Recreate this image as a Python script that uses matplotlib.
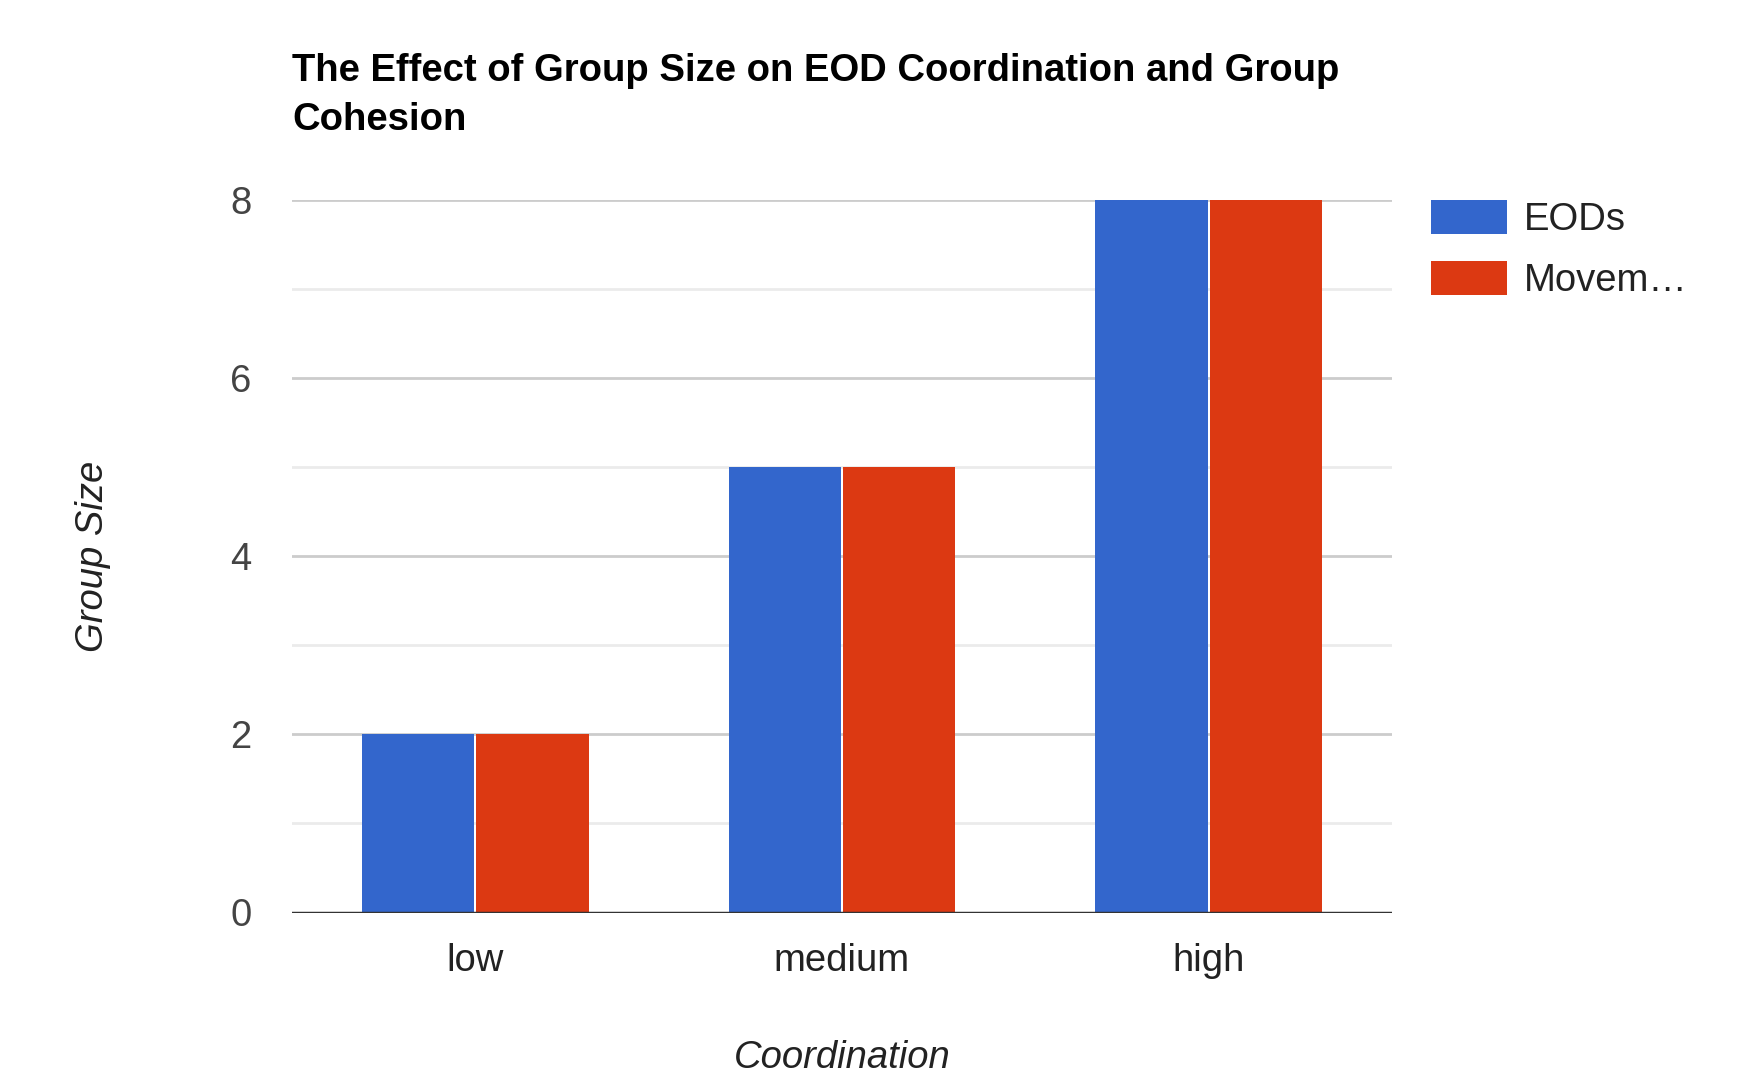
import matplotlib.pyplot as plt
import numpy as np

categories = ['low', 'medium', 'high']
eods = [2, 5, 8]
movement = [2, 5, 8]
series_names = ['EODs', 'Movem\u2026']

plt.rcParams['font.family'] = ['Liberation Sans', 'DejaVu Sans']

fig = plt.figure(figsize=(17.6, 10.73), dpi=100)
ax = fig.add_axes([292 / 1760, 1 - 912.5 / 1073, 1100 / 1760, 712.5 / 1073])

x = np.arange(len(categories))
w = 0.306
gap = 0.003
ax.bar(x - w / 2 - gap, eods, width=w, color='#3366cc', label=series_names[0], zorder=3)
ax.bar(x + w / 2 + gap, movement, width=w, color='#dc3912', label=series_names[1], zorder=3)

ax.set_xlim(-0.5, 2.5)
ax.set_ylim(0, 8)

# gridlines: major every 2, lighter minor in between
ax.set_yticks([0, 2, 4, 6, 8])
ax.set_yticks([1, 3, 5, 7], minor=True)
ax.grid(axis='y', which='major', color='#cccccc', linewidth=2, zorder=0)
ax.grid(axis='y', which='minor', color='#ebebeb', linewidth=2, zorder=0)
ax.axhline(0, color='#333333', linewidth=2.5, zorder=4)

for side in ['top', 'right', 'left', 'bottom']:
    ax.spines[side].set_visible(False)

ax.set_xticks(x)
ax.set_xticklabels(categories)
ax.tick_params(axis='both', which='both', length=0, labelsize=27.5, labelcolor='#222222')
ax.tick_params(axis='x', pad=22)
ax.tick_params(axis='y', pad=29, labelcolor='#444444')

ax.set_xlabel('Coordination', fontsize=27.5, style='italic', color='#222222', labelpad=44)
ax.set_ylabel('Group Size', fontsize=27.5, style='italic', color='#222222', labelpad=86)

fig.text(292 / 1760, 1 - 53 / 1073,
         'The Effect of Group Size on EOD Coordination and Group\nCohesion',
         fontsize=27.5, fontweight='bold', color='#000000', ha='left', va='top',
         linespacing=1.45)

ax.legend(loc='upper left', bbox_to_anchor=(1431 / 1760, 1 - 200 / 1073),
          bbox_transform=fig.transFigure, frameon=False, fontsize=27.5,
          handlelength=2.0, handleheight=1.0, handletextpad=0.42,
          labelspacing=0.6, borderpad=0, borderaxespad=0, labelcolor='#222222')

fig.savefig('out.png', dpi=100)
